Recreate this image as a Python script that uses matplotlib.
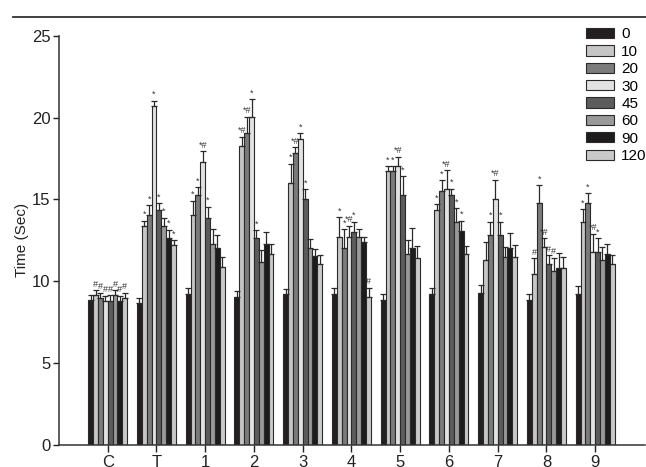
import matplotlib.pyplot as plt
import numpy as np
from matplotlib.patches import Patch
from matplotlib.lines import Line2D

plt.rcParams['font.family'] = ['Liberation Sans', 'DejaVu Sans']

groups = ['C', 'T', '1', '2', '3', '4', '5', '6', '7', '8', '9']
times = ['0', '10', '20', '30', '45', '60', '90', '120']

# mean time per group (rows) and time point (columns)
means = np.array([
    [8.85, 9.15, 9.00, 8.80, 8.80, 9.15, 8.80, 9.00],
    [8.70, 13.38, 14.03, 20.70, 14.36, 13.38, 12.65, 12.20],
    [9.24, 14.03, 15.27, 17.29, 13.85, 12.26, 12.03, 10.85],
    [9.04, 18.26, 19.04, 20.02, 12.63, 11.20, 12.28, 11.67],
    [9.22, 16.02, 17.86, 18.69, 15.05, 12.01, 11.55, 11.04],
    [9.24, 12.73, 12.02, 12.73, 13.03, 12.73, 12.38, 9.02],
    [8.86, 16.72, 16.72, 17.02, 15.25, 11.65, 12.05, 11.44],
    [9.24, 14.36, 15.52, 15.66, 15.25, 13.64, 13.07, 11.65],
    [9.30, 11.30, 12.81, 15.05, 12.81, 11.47, 12.03, 11.50],
    [8.86, 10.43, 14.80, 12.11, 11.04, 10.63, 10.80, 10.80],
    [9.22, 13.64, 14.80, 11.79, 11.79, 11.30, 11.65, 11.04],
])

errs = np.array([
    [0.30, 0.30, 0.30, 0.30, 0.35, 0.30, 0.30, 0.30],
    [0.30, 0.33, 0.60, 0.33, 0.40, 0.50, 0.50, 0.30],
    [0.37, 0.90, 0.47, 0.65, 0.70, 0.95, 0.78, 0.63],
    [0.35, 0.57, 1.00, 1.10, 0.50, 0.70, 0.75, 0.60],
    [0.30, 1.16, 0.33, 0.35, 0.57, 0.60, 0.40, 0.57],
    [0.37, 1.20, 1.15, 0.65, 0.60, 0.45, 0.35, 0.59],
    [0.35, 0.30, 0.30, 0.60, 1.16, 0.85, 1.22, 0.70],
    [0.37, 0.35, 0.67, 1.12, 0.40, 0.82, 0.63, 0.50],
    [0.47, 1.08, 0.83, 1.14, 0.83, 0.60, 0.90, 0.70],
    [0.35, 0.98, 1.06, 0.51, 0.55, 0.80, 0.90, 0.70],
    [0.49, 0.78, 0.60, 1.10, 0.84, 0.81, 0.60, 0.55],
])

# significance marks: (group index, time index, text)
marks = [
    (0, 1, '#'), (0, 2, '#'), (0, 3, '#'), (0, 4, '#'), (0, 5, '#'), (0, 6, '#'), (0, 7, '#'),
    (1, 1, '*'), (1, 2, '*'), (1, 3, '*'), (1, 4, '*'), (1, 5, '*'), (1, 6, '*'), (1, 7, '*'),
    (2, 1, '*'), (2, 2, '*'), (2, 3, '*#'), (2, 4, '*'),
    (3, 1, '*#'), (3, 2, '*#'), (3, 3, '*'), (3, 4, '*'),
    (4, 1, '*'), (4, 2, '*#'), (4, 3, '*'), (4, 4, '*'),
    (5, 1, '*'), (5, 2, '*'), (5, 3, '*#'), (5, 4, '*'), (5, 7, '#'),
    (6, 1, '*'), (6, 2, '*'), (6, 3, '*#'), (6, 4, '*'),
    (7, 1, '*'), (7, 2, '*'), (7, 3, '*#'), (7, 4, '*'), (7, 5, '*'), (7, 6, '*'),
    (8, 2, '*'), (8, 3, '*#'), (8, 4, '*'),
    (9, 1, '#'), (9, 2, '*'), (9, 3, '*#'), (9, 4, '#'), (9, 5, '#'),
    (10, 1, '*'), (10, 2, '*'), (10, 3, '*#'), (10, 4, '*'),
]

colors = ['#231f20', '#c6c6c6', '#7b7b7b', '#e2e2e2', '#5c5c5c', '#999999', '#1e1b1c', '#c9c9c9']

fig = plt.figure(figsize=(6.46, 4.67), dpi=100)
ax = fig.add_axes([0.0913, 0.047, 0.907, 0.8766])

x = np.arange(len(groups))
w = 0.1
edge = '#2a2a2a'
for j, t in enumerate(times):
    xs = x + (j - 3.5) * w
    ax.bar(xs, means[:, j], width=w, color=colors[j], edgecolor=edge, linewidth=0.8, zorder=2)
    ax.errorbar(xs, means[:, j], yerr=[np.zeros(len(groups)), errs[:, j]], fmt='none',
                ecolor=edge, elinewidth=0.9, capsize=2.4, capthick=0.9, zorder=3)

for g, j, s in marks:
    xp = x[g] + (j - 3.5) * w
    yp = means[g, j] + errs[g, j] + 0.1
    ax.text(xp, yp, s, ha='center', va='bottom', fontsize=6.5, color='#333333')

ax.set_xlim(-1, 11.02)
ax.set_ylim(0, 25)
ax.set_xticks(x)
ax.set_xticklabels(groups)
ax.set_yticks([0, 5, 10, 15, 20, 25])
ax.set_ylabel('Time (Sec)', fontsize=11, color='#222222', labelpad=2)
ax.tick_params(axis='both', labelsize=12, colors='#222222', width=1.0, length=4, pad=2)
ax.tick_params(axis='x', length=5)
for side in ['top', 'right']:
    ax.spines[side].set_visible(False)
for side in ['left', 'bottom']:
    ax.spines[side].set_color('#333333')
    ax.spines[side].set_linewidth(1.1)

handles = [Patch(facecolor=c, edgecolor=edge, linewidth=0.8) for c in colors]
ax.legend(handles, times, loc='upper right', bbox_to_anchor=(1.003, 1.02), frameon=False,
          fontsize=11, handlelength=1.83, handleheight=0.65, labelspacing=0.22,
          handletextpad=0.45, borderaxespad=0, borderpad=0)

# rule across the top of the figure
fig.add_artist(Line2D([0.02, 1.0], [0.963, 0.963], color='#333333', linewidth=1.3))

fig.savefig('out.png', dpi=100)
